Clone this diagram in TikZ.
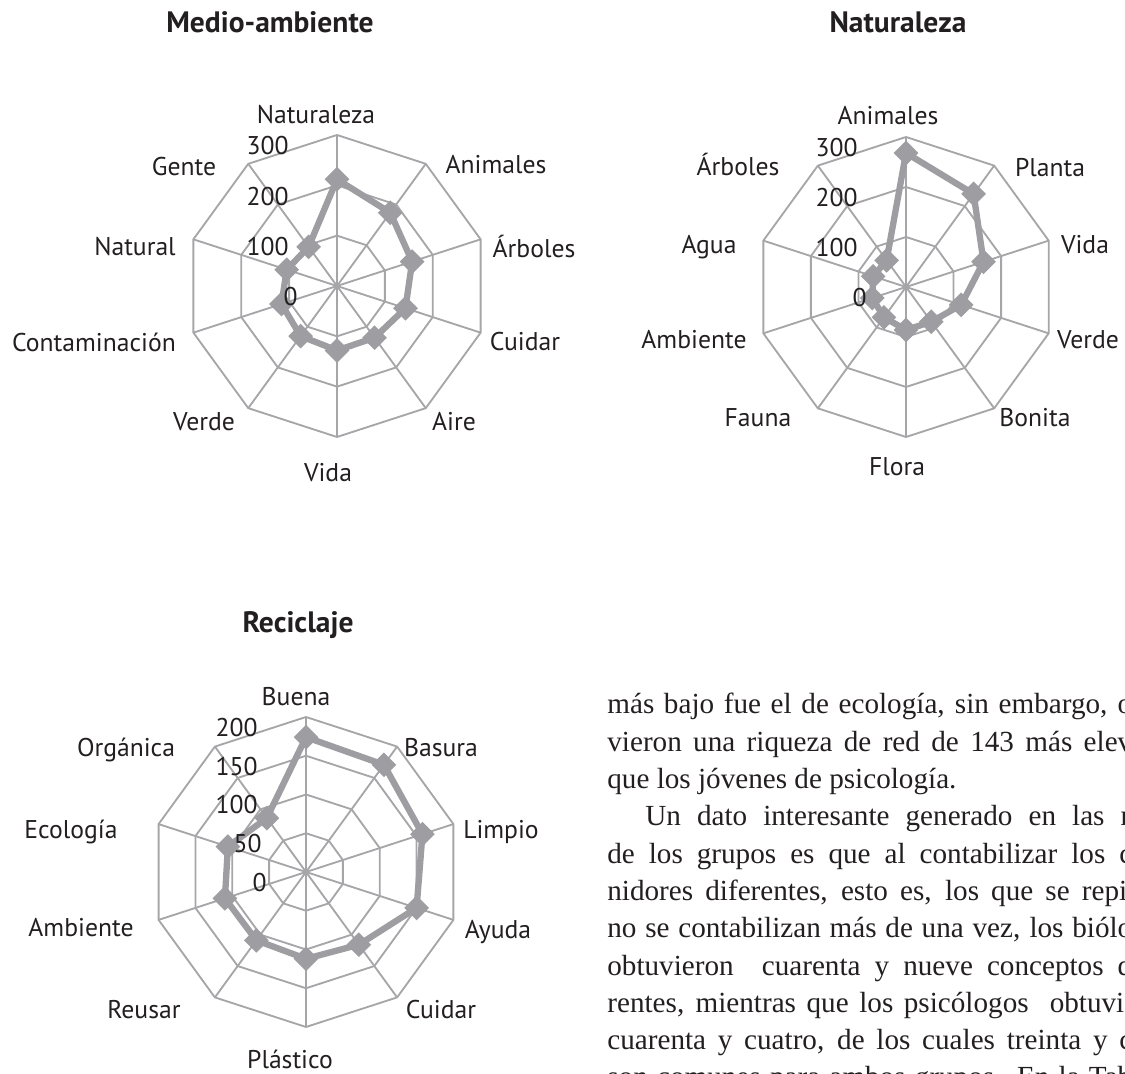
\documentclass[tikz,border=0pt]{standalone}
\usepackage{fontspec}
\newfontfamily\chartfont{PT Sans}
\newfontfamily\bodyfont{Liberation Serif}
\usetikzlibrary{shapes.geometric}

\definecolor{gridgray}{RGB}{166,166,169}
\definecolor{seriesgray}{RGB}{158,158,162}
\definecolor{inkblack}{RGB}{35,31,32}

\tikzset{
  webline/.style={draw=gridgray, line width=1.05pt},
  serline/.style={draw=seriesgray, line width=3.6pt, line join=round},
  datapt/.style={diamond, fill=seriesgray, inner sep=0pt, minimum width=0.5cm, minimum height=0.5cm},
  catlabel/.style={anchor=base, inner sep=0pt, text=inkblack, font=\chartfont\fontsize{14.6}{17}\selectfont},
  axlabel/.style={catlabel, anchor=base east},
  charttitle/.style={anchor=base, inner sep=0pt, text=inkblack, font=\chartfont\bfseries\fontsize{16.8}{19}\selectfont},
  bodyline/.style={anchor=base west, inner sep=0pt, text=inkblack, font=\bodyfont\fontsize{16.6}{20}\selectfont}
}

\begin{document}
\begin{tikzpicture}[x=0.02cm, y=0.02cm]
\useasboundingbox (0,0) rectangle (1125,1074);

% Medio-ambiente
\begin{scope}[shift={(337,788)}]
\foreach \r in {1,2,3}
  \draw[webline] (90:{\r*151/3}) \foreach \a in {54,18,...,-234} {-- (\a:{\r*151/3})} -- cycle;
\foreach \a in {90,54,...,-234}
  \draw[webline] (0,0) -- (\a:151);
\foreach \v [count=\i] in {212,180,157,143,127,128,123,116,105,96}
  \coordinate (ma\i) at ({126-36*\i}:{\v/300*151});
\end{scope}
\draw[serline] (ma1) \foreach \i in {2,...,10} {-- (ma\i)} -- cycle;
\foreach \i in {1,...,10} \node[datapt] (pma\i) at (ma\i) {};

\node[charttitle] (tma) at (270,1041) {Medio-ambiente};
\node[catlabel] (lma1) at (316,950) {Naturaleza};
\node[catlabel] (lma2) at (496,900) {Animales};
\node[catlabel] (lma3) at (534,816) {Árboles};
\node[catlabel] (lma4) at (525,723) {Cuidar};
\node[catlabel] (lma5) at (454,643) {Aire};
\node[catlabel] (lma6) at (328,592) {Vida};
\node[catlabel] (lma7) at (204,643) {Verde};
\node[catlabel] (lma8) at (94,722) {Contaminación};
\node[catlabel] (lma9) at (135,818) {Natural};
\node[catlabel] (lma10) at (184,898) {Gente};
\node[axlabel] (vma3) at (289,919) {300};
\node[axlabel] (vma2) at (289,868) {200};
\node[axlabel] (vma1) at (289,818) {100};
\node[axlabel] (vma0) at (298,768) {0};

% Naturaleza
\begin{scope}[shift={(906,787)}]
\foreach \r in {1,2,3}
  \draw[webline] (90:{\r*150/3}) \foreach \a in {54,18,...,-234} {-- (\a:{\r*150/3})} -- cycle;
\foreach \a in {90,54,...,-234}
  \draw[webline] (0,0) -- (\a:150);
\foreach \v [count=\i] in {268,230,163,116,86,86,75,71,69,66}
  \coordinate (nt\i) at ({126-36*\i}:{\v/300*150});
\end{scope}
\draw[serline] (nt1) \foreach \i in {2,...,10} {-- (nt\i)} -- cycle;
\foreach \i in {1,...,10} \node[datapt] (pnt\i) at (nt\i) {};

\node[charttitle] (tnt) at (898,1041) {Naturaleza};
\node[catlabel] (lnt1) at (888,949) {Animales};
\node[catlabel] (lnt2) at (1050,897) {Planta};
\node[catlabel] (lnt3) at (1085,820) {Vida};
\node[catlabel] (lnt4) at (1088,725) {Verde};
\node[catlabel] (lnt5) at (1035,647) {Bonita};
\node[catlabel] (lnt6) at (897,598) {Flora};
\node[catlabel] (lnt7) at (758,647) {Fauna};
\node[catlabel] (lnt8) at (694,725) {Ambiente};
\node[catlabel] (lnt9) at (709,820) {Agua};
\node[catlabel] (lnt10) at (738,898) {Árboles};
\node[axlabel] (vnt3) at (858,917) {300};
\node[axlabel] (vnt2) at (858,867) {200};
\node[axlabel] (vnt1) at (858,817) {100};
\node[axlabel] (vnt0) at (867,767) {0};

% Reciclaje
\begin{scope}[shift={(306,202)}]
\foreach \r in {1,2,3,4}
  \draw[webline] (90:{\r*155/4}) \foreach \a in {54,18,...,-234} {-- (\a:{\r*155/4})} -- cycle;
\foreach \a in {90,54,...,-234}
  \draw[webline] (0,0) -- (\a:155);
\foreach \v [count=\i] in {174,171,158,150,116,112,109,110,106,86}
  \coordinate (rc\i) at ({126-36*\i}:{\v/200*155});
\end{scope}
\draw[serline] (rc1) \foreach \i in {2,...,10} {-- (rc\i)} -- cycle;
\foreach \i in {1,...,10} \node[datapt] (prc\i) at (rc\i) {};

\node[charttitle] (trc) at (298,441) {Reciclaje};
\node[catlabel] (lrc1) at (296,368) {Buena};
\node[catlabel] (lrc2) at (441,317) {Basura};
\node[catlabel] (lrc3) at (501,235) {Limpio};
\node[catlabel] (lrc4) at (498,135) {Ayuda};
\node[catlabel] (lrc5) at (441,55) {Cuidar};
\node[catlabel] (lrc6) at (290,5) {Plástico};
\node[catlabel] (lrc7) at (144,55) {Reusar};
\node[catlabel] (lrc8) at (81,137) {Ambiente};
\node[catlabel] (lrc9) at (71,235) {Ecología};
\node[catlabel] (lrc10) at (126,317) {Orgánica};
\node[axlabel] (vrc4) at (258,337) {200};
\node[axlabel] (vrc3) at (258,298) {150};
\node[axlabel] (vrc2) at (258,260) {100};
\node[axlabel] (vrc1) at (262,221) {50};
\node[axlabel] (vrc0) at (267,182) {0};

% texto
\begin{scope}
\clip (0,0) rectangle (1125,1074);
\node[bodyline] (txt1) at (607,360) {\makebox[10.5cm][s]{más bajo fue el de ecología, sin embargo, o}};
\node[bodyline] (txt2) at (607,322.7) {\makebox[10.5cm][s]{vieron una riqueza de red de 143 más elev}};
\node[bodyline] (txt3) at (607,285.4) {que los jóvenes de psicología.};
\node[bodyline] (txt4) at (645,248.1) {\makebox[9.7cm][s]{Un dato interesante generado en las r}};
\node[bodyline] (txt5) at (607,210.8) {\makebox[10.5cm][s]{de los grupos es que al contabilizar los c}};
\node[bodyline] (txt6) at (607,173.5) {\makebox[10.4cm][s]{nidores diferentes, esto es, los que se repi}};
\node[bodyline] (txt7) at (607,136.2) {\makebox[10.5cm][s]{no se contabilizan más de una vez, los biólo}};
\node[bodyline] (txt8) at (607,98.9) {\makebox[10.5cm][s]{obtuvieron \ cuarenta y nueve conceptos d}};
\node[bodyline] (txt9) at (607,61.6) {\makebox[10.6cm][s]{rentes, mientras que los psicólogos \ obtuvie}};
\node[bodyline] (txt10) at (607,24.3) {\makebox[10.5cm][s]{cuarenta y cuatro, de los cuales treinta y c}};
\node[bodyline] (txt11) at (607,-13) {\makebox[10.5cm][s]{son comunes para ambos grupos. En la Tab}};
\end{scope}
\end{tikzpicture}
\end{document}
